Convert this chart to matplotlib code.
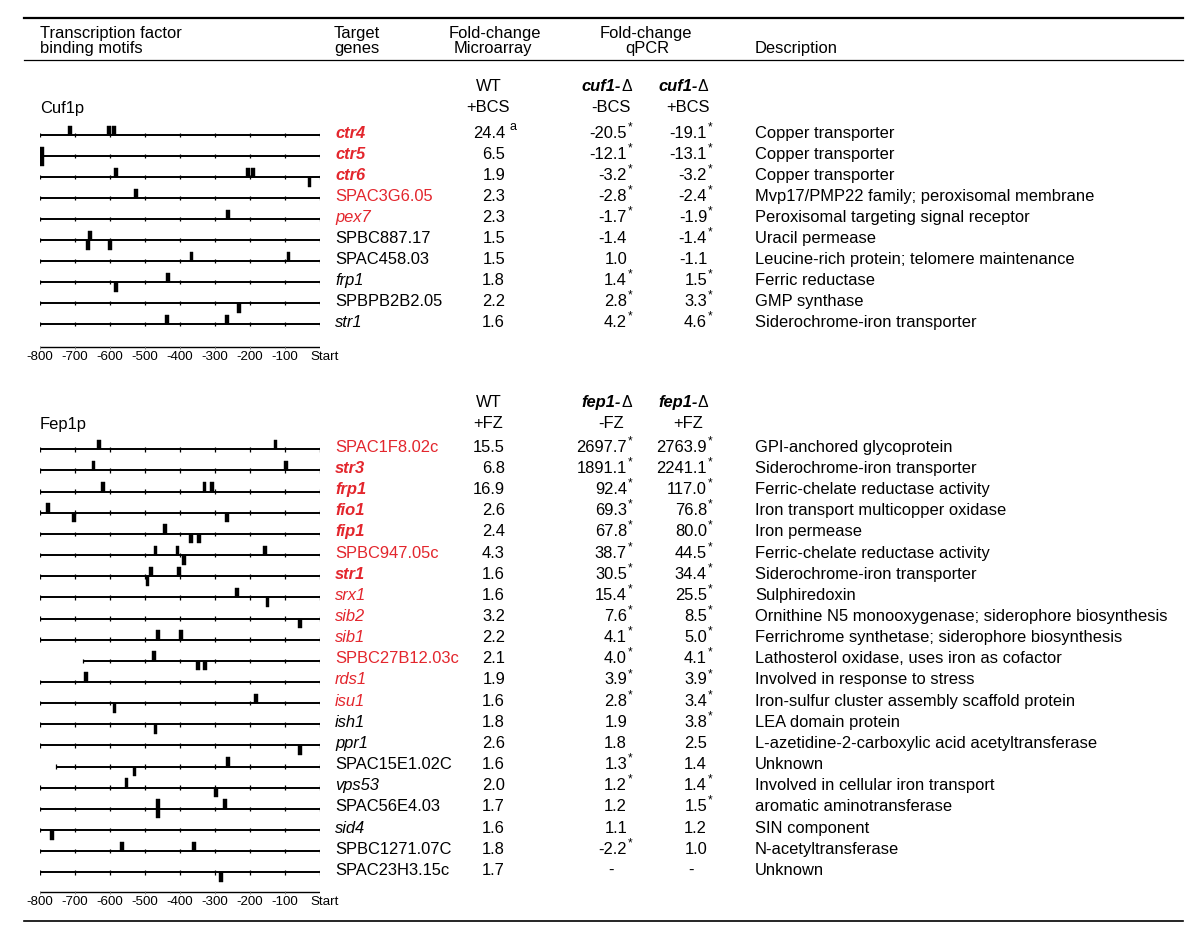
import matplotlib
matplotlib.use("Agg")
import matplotlib.pyplot as plt

plt.rcParams['font.family'] = ['Liberation Sans', 'DejaVu Sans']

RED = '#e3262d'

# ---- Cuf1p panel ----
cuf_genes = ["ctr4", "ctr5", "ctr6", "SPAC3G6.05", "pex7", "SPBC887.17",
             "SPAC458.03", "frp1", "SPBPB2B2.05", "str1"]
cuf_red = [1, 1, 1, 1, 1, 0, 0, 0, 0, 0]
cuf_style = ["bi", "bi", "bi", "n", "i", "n", "n", "i", "n", "i"]
cuf_micro = ["24.4", "6.5", "1.9", "2.3", "2.3", "1.5", "1.5", "1.8", "2.2", "1.6"]
cuf_q1 = ["-20.5*", "-12.1*", "-3.2*", "-2.8*", "-1.7*", "-1.4", "1.0", "1.4*", "2.8*", "4.2*"]
cuf_q2 = ["-19.1*", "-13.1*", "-3.2*", "-2.4*", "-1.9*", "-1.4*", "-1.1", "1.5*", "3.3*", "4.6*"]
cuf_desc = ["Copper transporter", "Copper transporter", "Copper transporter",
            "Mvp17/PMP22 family; peroxisomal membrane",
            "Peroxisomal targeting signal receptor", "Uracil permease",
            "Leucine-rich protein; telomere maintenance", "Ferric reductase",
            "GMP synthase", "Siderochrome-iron transporter"]
cuf_start = [-800] * 10
# (position in bp, strand): 1 above line, -1 below, 0 both
cuf_motifs = [
    [(-714, 1), (-604, 1), (-589, 1)],
    [(-795, 0)],
    [(-584, 1), (-206, 1), (-191, 1), (-30, -1)],
    [(-526, 1)],
    [(-263, 1)],
    [(-657, 1), (-664, -1), (-600, -1)],
    [(-367, 1), (-90, 1)],
    [(-434, 1), (-583, -1)],
    [(-232, -1)],
    [(-438, 1), (-266, 1)],
]

# ---- Fep1p panel ----
fep_genes = ["SPAC1F8.02c", "str3", "frp1", "fio1", "fip1", "SPBC947.05c", "str1",
             "srx1", "sib2", "sib1", "SPBC27B12.03c", "rds1", "isu1", "ish1", "ppr1",
             "SPAC15E1.02C", "vps53", "SPAC56E4.03", "sid4", "SPBC1271.07C", "SPAC23H3.15c"]
fep_red = [1] * 13 + [0] * 8
fep_style = ["n", "bi", "bi", "bi", "bi", "n", "bi", "i", "i", "i", "n", "i", "i",
             "i", "i", "n", "i", "n", "i", "n", "n"]
fep_micro = ["15.5", "6.8", "16.9", "2.6", "2.4", "4.3", "1.6", "1.6", "3.2", "2.2", "2.1",
             "1.9", "1.6", "1.8", "2.6", "1.6", "2.0", "1.7", "1.6", "1.8", "1.7"]
fep_q1 = ["2697.7*", "1891.1*", "92.4*", "69.3*", "67.8*", "38.7*", "30.5*", "15.4*",
          "7.6*", "4.1*", "4.0*", "3.9*", "2.8*", "1.9", "1.8", "1.3*", "1.2*", "1.2",
          "1.1", "-2.2*", "-"]
fep_q2 = ["2763.9*", "2241.1*", "117.0*", "76.8*", "80.0*", "44.5*", "34.4*", "25.5*",
          "8.5*", "5.0*", "4.1*", "3.9*", "3.4*", "3.8*", "2.5", "1.4", "1.4*", "1.5*",
          "1.2", "1.0", "-"]
fep_desc = ["GPI-anchored glycoprotein", "Siderochrome-iron transporter",
            "Ferric-chelate reductase activity", "Iron transport multicopper oxidase",
            "Iron permease", "Ferric-chelate reductase activity",
            "Siderochrome-iron transporter", "Sulphiredoxin",
            "Ornithine N5 monooxygenase; siderophore biosynthesis",
            "Ferrichrome synthetase; siderophore biosynthesis",
            "Lathosterol oxidase, uses iron as cofactor", "Involved in response to stress",
            "Iron-sulfur cluster assembly scaffold protein", "LEA domain protein",
            "L-azetidine-2-carboxylic acid acetyltransferase", "Unknown",
            "Involved in cellular iron transport", "aromatic aminotransferase",
            "SIN component", "N-acetyltransferase", "Unknown"]
fep_start = [-800] * 10 + [-676] + [-800] * 4 + [-755] + [-800] * 5
fep_motifs = [
    [(-631, 1), (-127, 1)],
    [(-647, 1), (-98, 1)],
    [(-621, 1), (-330, 1), (-309, 1)],
    [(-776, 1), (-702, -1), (-266, -1)],
    [(-443, 1), (-369, -1), (-346, -1)],
    [(-470, 1), (-407, 1), (-389, -1), (-156, 1)],
    [(-482, 1), (-493, -1), (-402, 1)],
    [(-237, 1), (-150, -1)],
    [(-57, -1)],
    [(-462, 1), (-396, 1)],
    [(-475, 1), (-348, -1), (-328, -1)],
    [(-669, 1)],
    [(-587, -1), (-182, 1)],
    [(-470, -1)],
    [(-57, -1)],
    [(-262, 1), (-530, -1)],
    [(-553, 1), (-296, -1)],
    [(-462, 0), (-271, 1)],
    [(-765, -1)],
    [(-565, 1), (-360, 1)],
    [(-284, -1)],
]

scale_ticks = [-800, -700, -600, -500, -400, -300, -200, -100, 0]
scale_labels = ["-800", "-700", "-600", "-500", "-400", "-300", "-200", "-100", "Start"]

FS = 11.9
fig = plt.figure(figsize=(12, 9.47), dpi=100)
ax = fig.add_axes([0, 0, 1, 1])
ax.set_xlim(0, 1200)
ax.set_ylim(947, 0)
ax.axis('off')

# motif axes: x in bp, y in pixels
axm = fig.add_axes([40 / 1200, 0, 280 / 1200, 1])
axm.set_xlim(-800, 0)
axm.set_ylim(947, 0)
axm.axis('off')

# header
ax.plot([24, 1183], [18, 18], color='black', lw=1.6)
ax.plot([24, 1183], [60, 60], color='black', lw=0.9)
ax.plot([24, 1183], [921, 921], color='black', lw=1.2)
ax.text(40, 33, "Transcription factor", fontsize=FS, va='center')
ax.text(40, 48, "binding motifs", fontsize=FS, va='center')
ax.text(334, 33, "Target", fontsize=FS, va='center')
ax.text(334, 48, "genes", fontsize=FS, va='center')
ax.text(495, 33, "Fold-change", fontsize=FS, va='center', ha='center')
ax.text(493, 48, "Microarray", fontsize=FS, va='center', ha='center')
ax.text(646, 33, "Fold-change", fontsize=FS, va='center', ha='center')
ax.text(647, 48, "qPCR", fontsize=FS, va='center', ha='center')
ax.text(755, 48, "Description", fontsize=FS, va='center')


def style_kw(s):
    return {'fontweight': 'bold' if 'b' in s else 'normal',
            'fontstyle': 'italic' if 'i' in s else 'normal'}


def put_value(x_right, x_center, y, val):
    if val == "-":
        ax.text(x_center, y, "-", fontsize=FS, va='center', ha='center')
        return
    star = val.endswith("*")
    num = val.rstrip("*")
    ax.text(x_right, y, num, fontsize=FS, va='center', ha='right')
    if star:
        ax.text(x_right + 1, y - 6, "*", fontsize=8.5, va='center', ha='left')


def panel(name, head_y, sub, y0, step, genes, red, styles, micro, q1, q2, desc,
          starts, motifs, scale_y):
    ax.text(40, head_y + 22, name, fontsize=FS, va='center')
    ax.text(489, head_y, "WT", fontsize=FS, va='center', ha='center')
    ax.text(488, head_y + 21, "+" + sub[1], fontsize=FS, va='center', ha='center')
    for xr, lab in ((621, "-" + sub[1]), (698, "+" + sub[1])):
        ax.text(xr, head_y, sub[0] + "-", fontsize=FS, va='center', ha='right',
                fontweight='bold', fontstyle='italic')
        ax.text(xr, head_y, "\u0394", fontsize=FS - 0.5, va='center', ha='left')
        ax.text(xr - 10, head_y + 21, lab, fontsize=FS, va='center', ha='center')
    for i, g in enumerate(genes):
        yl = y0 + i * step
        yt = yl - 2
        ax.text(335, yt, g, fontsize=FS, va='center',
                color=RED if red[i] else 'black', **style_kw(styles[i]))
        ax.text(505, yt, micro[i], fontsize=FS, va='center', ha='right')
        if micro[i] == "24.4":
            ax.text(510, yt - 6, "a", fontsize=9, va='center', ha='left')
        put_value(627, 611, yt, q1[i])
        put_value(707, 691, yt, q2[i])
        ax.text(755, yt, desc[i], fontsize=FS, va='center')
        # promoter line
        axm.plot([starts[i], 0], [yl, yl], color='black', lw=1.4, solid_capstyle='butt')
        tks = [starts[i]] + [t for t in scale_ticks if t > starts[i]]
        axm.vlines(tks, yl - 2.3, yl + 2.3, color='black', lw=0.9)
        for pos, strand in motifs[i]:
            if strand >= 0:
                axm.bar(pos, -9.5, bottom=yl, width=11, color='black', lw=0.3,
                        edgecolor='black')
            if strand <= 0:
                axm.bar(pos, 9.5, bottom=yl, width=11, color='black', lw=0.3,
                        edgecolor='black')
    axm.plot([-800, 0], [scale_y, scale_y], color='black', lw=1.0)
    axm.vlines(scale_ticks, scale_y - 1.5, scale_y + 1.5, color='#777777', lw=0.6)
    for t, lab in zip(scale_ticks, scale_labels):
        axm.text(t + (14 if lab == "Start" else 0), scale_y + 10, lab, fontsize=9.6,
                 ha='center', va='center')


panel("Cuf1p", 86, ("cuf1", "BCS"), 135, 21.0, cuf_genes, cuf_red, cuf_style, cuf_micro,
      cuf_q1, cuf_q2, cuf_desc, cuf_start, cuf_motifs, 347)
panel("Fep1p", 402, ("fep1", "FZ"), 449.3, 21.15, fep_genes, fep_red, fep_style, fep_micro,
      fep_q1, fep_q2, fep_desc, fep_start, fep_motifs, 892)

fig.savefig("out.png", dpi=100)
